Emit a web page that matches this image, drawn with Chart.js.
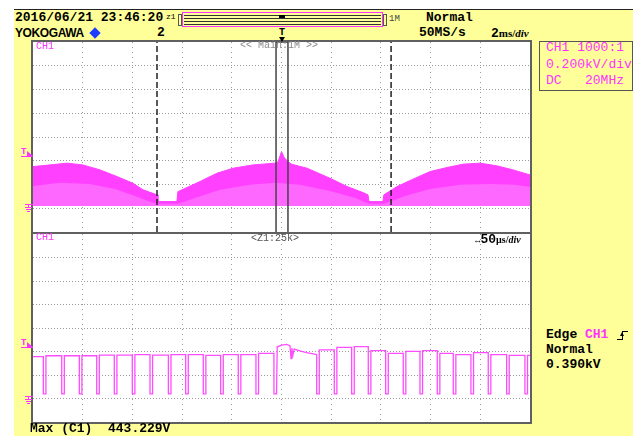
<!DOCTYPE html>
<html>
<head>
<meta charset="utf-8">
<script src="https://cdn.jsdelivr.net/npm/chart.js@4.4.1/dist/chart.umd.min.js"></script>
<style>
  html, body { margin: 0; padding: 0; background: #fff; }
  #scope { position: relative; width: 633px; height: 436px; overflow: hidden; }
  #panel { position: absolute; left: 14px; top: 9px; width: 619px; height: 427px; background: #ffff99; border-top: 1px solid #222; box-sizing: border-box; }
  .frame { position: absolute; box-sizing: border-box; border: 2px solid #606060; background: #fff; }
  .frame canvas { display: block; }
  .t { position: absolute; white-space: pre; font-family: "Liberation Mono", "DejaVu Sans Mono", monospace; font-size: 13px; line-height: 14px; font-weight: bold; color: #000; }
  .mag { color: #ff33ff; }
  .small { font-size: 10px; line-height: 10px; font-weight: normal; }
  .box { position: absolute; }
</style>
</head>
<body>
<div id="scope">
  <div id="panel"></div>

  <div class="frame" style="left:31px;top:40px;width:501px;height:194px;"><canvas id="upper" width="497" height="190"></canvas></div>
  <div class="frame" style="left:31px;top:232px;width:501px;height:192px;"><canvas id="lower" width="497" height="188"></canvas></div>

  <!-- header -->
  <div class="t" style="left:15px;top:11px;">2016/06/21 23:46:20</div>
  <div class="t small" style="left:166px;top:12px;font-size:8px;">z1</div>
  <div class="box" style="left:178px;top:14px;width:2px;height:10px;border:1px solid #555;"></div>
  <div class="box" style="left:182px;top:12px;width:201px;height:15px;border:1px solid #ff33ff;box-sizing:border-box;"></div>
  <div class="box" style="left:184px;top:15px;width:197px;height:1px;background:#333;"></div>
  <div class="box" style="left:184px;top:18px;width:197px;height:1px;background:#333;"></div>
  <div class="box" style="left:184px;top:21px;width:197px;height:1px;background:#333;"></div>
  <div class="box" style="left:184px;top:24px;width:197px;height:1px;background:#333;"></div>
  <div class="box" style="left:279px;top:15px;width:6px;height:3px;background:#000;"></div>
  <div class="box" style="left:383px;top:14px;width:2px;height:10px;border:1px solid #555;"></div>
  <div class="t small" style="left:389px;top:14px;font-size:9px;color:#444;">1M</div>
  <div class="t" style="left:426px;top:11px;">Normal</div>

  <div class="t" style="left:15px;top:26px;font-family:'Liberation Sans',sans-serif;font-size:12px;letter-spacing:-0.4px;">YOKOGAWA</div>
  <div class="box" style="left:91px;top:29px;width:8px;height:8px;background:#1c3cff;transform:rotate(45deg);"></div>
  <div class="t" style="left:157px;top:26px;">2</div>
  <div class="t" style="left:279px;top:26px;font-size:10px;">T</div>
  <div class="box" style="left:279px;top:37px;width:0;height:0;border-top:5px solid #000;border-left:3px solid transparent;border-right:3px solid transparent;"></div>
  <div class="t" style="left:419px;top:26px;">50MS/s</div>
  <div class="t" style="left:491px;top:26px;">2<span style="font-size:11px;font-family:'Liberation Serif',serif;">ms/<i>div</i></span></div>

  <!-- channel box -->
  <div class="box" style="left:539px;top:41px;width:94px;height:50px;border:1px solid #555;box-sizing:border-box;"></div>
  <div class="t mag" style="left:546px;top:41px;font-weight:normal;">CH1 1000:1</div>
  <div class="t mag" style="left:546px;top:58px;font-weight:normal;">0.200kV/div</div>
  <div class="t mag" style="left:546px;top:74px;font-weight:normal;">DC   20MHz</div>

  <!-- plot labels -->
  <div class="t small mag" style="left:36px;top:42px;">CH1</div>
  <div class="t small" style="left:240px;top:41px;color:#8a8a8a;">&lt;&lt; Main:1M &gt;&gt;</div>
  <div class="t small mag" style="left:36px;top:233px;">CH1</div>
  <div class="t small" style="left:251px;top:234px;color:#555;">&lt;Z1:25k&gt;</div>
  <div class="t" style="left:475px;top:233px;"><span style="font-size:9px;">&harr;</span>50<span style="font-size:10px;font-family:'Liberation Serif',serif;">&micro;s/<i>div</i></span></div>

  <!-- left markers -->
  <div class="t mag" style="left:21px;top:148px;font-size:9px;line-height:9px;">T</div>
  <div class="box" style="left:27px;top:151px;width:0;height:0;border-left:6px solid #ff33ff;border-top:5px solid transparent;"></div>
  <div class="box" style="left:21px;top:156px;width:12px;height:1px;background:#ff33ff;"></div>
  <div class="box" style="left:25px;top:204px;width:8px;height:1px;background:#ff33ff;"></div>
  <div class="box" style="left:28px;top:204px;width:1px;height:4px;background:#ff33ff;"></div>
  <div class="box" style="left:25px;top:207px;width:7px;height:1px;background:#ff33ff;"></div>
  <div class="box" style="left:26px;top:209px;width:5px;height:1px;background:#ff33ff;"></div>
  <div class="box" style="left:27px;top:211px;width:3px;height:1px;background:#ff33ff;"></div>

  <div class="t mag" style="left:21px;top:339px;font-size:9px;line-height:9px;">T</div>
  <div class="box" style="left:27px;top:342px;width:0;height:0;border-left:6px solid #ff33ff;border-top:5px solid transparent;"></div>
  <div class="box" style="left:21px;top:347px;width:12px;height:1px;background:#ff33ff;"></div>
  <div class="box" style="left:25px;top:396px;width:8px;height:1px;background:#ff33ff;"></div>
  <div class="box" style="left:28px;top:396px;width:1px;height:4px;background:#ff33ff;"></div>
  <div class="box" style="left:25px;top:399px;width:7px;height:1px;background:#ff33ff;"></div>
  <div class="box" style="left:26px;top:401px;width:5px;height:1px;background:#ff33ff;"></div>
  <div class="box" style="left:27px;top:403px;width:3px;height:1px;background:#ff33ff;"></div>

  <!-- trigger info -->
  <div class="t" style="left:546px;top:328px;">Edge <span class="mag">CH1</span></div>
  <div class="box" style="left:617px;top:339px;width:5px;height:1px;background:#000;"></div>
  <div class="box" style="left:622px;top:331px;width:1px;height:9px;background:#000;"></div>
  <div class="box" style="left:622px;top:331px;width:6px;height:1px;background:#000;"></div>
  <div class="box" style="left:620px;top:332px;width:0;height:0;border-bottom:4px solid #000;border-left:2.5px solid transparent;border-right:2.5px solid transparent;"></div>
  <div class="t" style="left:546px;top:343px;">Normal</div>
  <div class="t" style="left:546px;top:358px;">0.390kV</div>

  <div class="t" style="left:30px;top:422px;">Max (C1)  443.229V</div>
</div>

<script>
// main window: 2 ms/div, time in ms, CH1 in kV (0.2 kV/div)
const upperTimes = [-10, -9.32, -8.63, -7.99, -7.30, -6.62, -5.98, -5.57, -5.01, -4.97,
  -4.21, -4.17, -3.28, -2.60, -1.95, -1.15, -0.26, -0.14, 0.0, 0.10,
  0.26, 0.42, 1.03, 1.95, 2.64, 3.28, 3.48, 3.52, 4.08, 4.12,
  4.65, 5.29, 5.98, 6.66, 7.30, 7.99, 8.67, 9.32, 10];
const upperPeak = [0.331, 0.345, 0.360, 0.345, 0.303, 0.247, 0.191, 0.135, 0.093, 0.036,
  0.036, 0.120, 0.205, 0.275, 0.317, 0.345, 0.360, 0.370, 0.457, 0.410,
  0.372, 0.350, 0.317, 0.233, 0.163, 0.112, 0.093, 0.036, 0.036, 0.093,
  0.163, 0.225, 0.289, 0.323, 0.351, 0.360, 0.337, 0.303, 0.261];

// denser inner part of the envelope
const upperCoreTimes = [-10, -8.91, -7.71, -6.70, -5.90, -5.29, -5.01, -4.17, -3.48, -2.47,
  -1.27, -0.26, 0.74, 1.95, 2.96, 3.52, 4.12, 4.97, 5.98, 7.18, 8.39, 9.40, 10];
const upperCore = [0.168, 0.194, 0.185, 0.143, 0.084, 0.034, 0.017, 0.017, 0.067, 0.135,
  0.177, 0.194, 0.177, 0.126, 0.067, 0.017, 0.017, 0.084, 0.143, 0.177, 0.185, 0.177, 0.160];

const cursorTimes = [-5.01, 4.41];
const zoomSpan = [-0.22, 0.26];

// zoom window: 50 us/div, time in us
const lowerDips = [-239.6, -221.1, -203.4, -185.9, -168.2, -150.1, -132.3, -113.8, -96.4, -78.7,
  -61.2, -43.5, -25.7, -7.6, 35.4, 53.1, 70.6, 87.3, 104.8, 122.5,
  139.3, 156.7, 172.8, 190.6, 208.0, 226.5, 244.9];
const lowerHigh = [0.356, 0.364, 0.364, 0.364, 0.370, 0.370, 0.373, 0.370, 0.373, 0.373,
  0.367, 0.373, 0.373, 0.384, 0.373, 0.413, 0.435, 0.441, 0.407, 0.384,
  0.401, 0.407, 0.384, 0.373, 0.390, 0.373, 0.367];
const lowerEnd = 0.367;
const dipLow = 0.04;
const dipWidth = 2.6;
const ringTimes = [-4.3, 0.2, 5.2, 8.5, 9.6, 10.4, 11.5, 12.8, 18.6, 25, 32];
const ringVolts = [0.44, 0.455, 0.46, 0.45, 0.34, 0.43, 0.37, 0.42, 0.405, 0.39, 0.38];

const UPPER_Y = [-0.22, 1.38];
const LOWER_Y = [-0.2, 1.4];

function pts(xs, ys) {
  return xs.map((x, i) => ({ x: x, y: ys[i] }));
}

function buildLower() {
  const out = [{ x: -250, y: lowerHigh[0] }];
  lowerDips.forEach((d, i) => {
    out.push({ x: d, y: lowerHigh[i] }, { x: d, y: dipLow }, { x: d + dipWidth, y: dipLow });
    const next = lowerDips[i + 1];
    if (next !== undefined && d < ringTimes[0] && next > ringTimes[0]) {
      ringTimes.forEach((t, k) => out.push({ x: t, y: ringVolts[k] }));
    } else {
      out.push({ x: d + dipWidth, y: next !== undefined ? lowerHigh[i + 1] : lowerEnd });
    }
  });
  out.push({ x: 250, y: lowerEnd });
  return out;
}

function evenTicks(count) {
  return (scale) => {
    scale.ticks = [];
    for (let i = 0; i <= count; i++) {
      scale.ticks.push({ value: scale.min + (scale.max - scale.min) * i / count });
    }
  };
}

function gridColor(last) {
  return (c) => (c.index === 0 || c.index === last) ? 'rgba(0,0,0,0)' : '#9a9a9a';
}

function scopeOptions(xMin, xMax, yRange) {
  return {
    responsive: false,
    animation: false,
    events: [],
    devicePixelRatio: 1,
    layout: { padding: 0 },
    plugins: { legend: { display: false }, tooltip: { enabled: false } },
    elements: { point: { radius: 0 }, line: { tension: 0 } },
    scales: {
      x: {
        type: 'linear', min: xMin, max: xMax,
        afterBuildTicks: evenTicks(10),
        ticks: { display: false },
        grid: { color: gridColor(10), lineWidth: 1, drawTicks: false },
        border: { display: false, dash: [1, 4] }
      },
      y: {
        type: 'linear', min: yRange[0], max: yRange[1],
        afterBuildTicks: evenTicks(8),
        ticks: { display: false },
        grid: { color: gridColor(8), lineWidth: 1, drawTicks: false },
        border: { display: false, dash: [1, 2] }
      }
    }
  };
}

const upperSets = [
  { data: pts(upperTimes, upperPeak), borderColor: '#ff40ff', backgroundColor: '#ff40ff', borderWidth: 1, fill: 'origin', order: 4 },
  { data: pts(upperCoreTimes, upperCore), borderColor: 'rgba(0,0,0,0)', backgroundColor: '#ff68ff', borderWidth: 0, fill: 'origin', order: 3 }
];
cursorTimes.forEach(t => {
  upperSets.push({ data: [{ x: t, y: UPPER_Y[0] }, { x: t, y: UPPER_Y[1] }], borderColor: '#222', borderWidth: 1.5, borderDash: [6, 3], fill: false, order: 1 });
});
upperSets.push({
  data: [{ x: zoomSpan[0], y: UPPER_Y[0] }, { x: zoomSpan[0], y: UPPER_Y[1] }, { x: zoomSpan[1], y: UPPER_Y[1] }, { x: zoomSpan[1], y: UPPER_Y[0] }],
  borderColor: '#444', borderWidth: 1.5, fill: false, order: 1
});

new Chart(document.getElementById('upper'), {
  type: 'line',
  data: { datasets: upperSets },
  options: scopeOptions(-10, 10, UPPER_Y)
});

new Chart(document.getElementById('lower'), {
  type: 'line',
  data: { datasets: [{ data: buildLower(), borderColor: '#ff4cff', borderWidth: 1.3, fill: false }] },
  options: scopeOptions(-250, 250, LOWER_Y)
});
</script>
</body>
</html>
